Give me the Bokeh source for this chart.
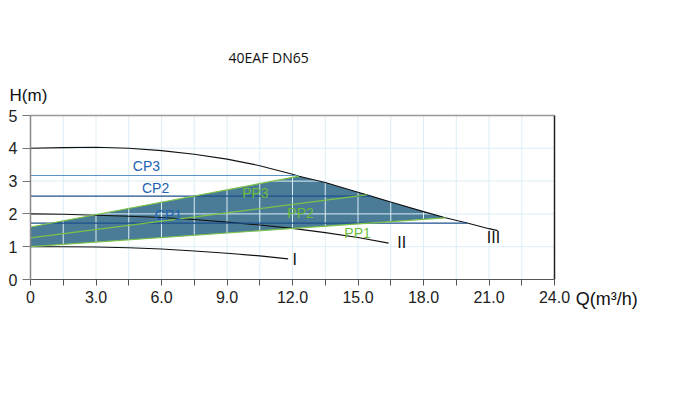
import numpy as np
from bokeh.plotting import figure
from bokeh.models import Label, FixedTicker
from bokeh.core.properties import value
from bokeh.embed import file_html
from bokeh.resources import INLINE

# ---- data ----
title_text = "40EAF DN65"
x_ticks = [0, 1.5, 3, 4.5, 6, 7.5, 9, 10.5, 12, 13.5, 15, 16.5, 18, 19.5, 21, 22.5, 24]
x_tick_labels = ["0", "", "3.0", "", "6.0", "", "9.0", "", "12.0", "", "15.0", "", "18.0", "", "21.0", "", "24.0"]
y_ticks = [0, 1, 2, 3, 4, 5]
x_max = 24
y_max = 5

# max curve III
q3 = [0, 1.5, 3, 4.5, 6, 7.5, 9, 10.5, 12, 12.3, 13.5, 15, 15.4, 16.5, 18, 19, 20, 21, 21.4]
h3 = [4.0, 4.02, 4.03, 4.0, 3.93, 3.82, 3.67, 3.47, 3.21, 3.15, 2.96, 2.66, 2.58, 2.36, 2.07, 1.88, 1.72, 1.55, 1.49]
# curve II
q2 = [0, 1.5, 3, 4.5, 6, 7.5, 9, 10.5, 12, 13.5, 15, 16.4]
h2 = [2.0, 1.99, 1.96, 1.93, 1.89, 1.83, 1.75, 1.66, 1.56, 1.43, 1.28, 1.11]
# curve I
q1 = [0, 1.5, 3, 4.5, 6, 7.5, 9, 10.5, 11.8]
h1 = [1.0, 1.0, 0.99, 0.97, 0.93, 0.87, 0.8, 0.72, 0.63]

# constant pressure lines (height, end flow)
cp_names = ["CP3", "CP2", "CP1"]
cp_h = [3.17, 2.54, 1.72]
cp_qend = [12.2, 15.6, 20.0]
# proportional pressure lines (start head, end flow, end head)
pp_names = ["PP3", "PP2", "PP1"]
pp_h0 = [1.6, 1.27, 1.0]
pp_qend = [12.3, 15.4, 19.0]
pp_hend = [3.15, 2.58, 1.88]

# label positions
cp_lab_q = [5.31, 5.73, 6.32]
cp_lab_h = [3.45, 2.80, 1.98]
pp_lab_q = [10.3, 12.37, 14.98]
pp_lab_h = [2.64, 2.03, 1.42]
curve_names = ["I", "II", "III"]
curve_lab_q = [12.0, 16.8, 20.9]
curve_lab_h = [0.6, 1.13, 1.27]

FONT = "Liberation Sans"

W, H = 669, 389
# pixel placement of the chart box inside the canvas
LEFT, RIGHT, TOP, BOTTOM = 30, 554, 115, 279
sx = (RIGHT - LEFT) / x_max
sy = (BOTTOM - TOP) / y_max
xr = (-LEFT / sx, (W - LEFT) / sx)
yr = (-(H - BOTTOM) / sy, y_max + TOP / sy)

p = figure(width=W, height=H, x_range=xr, y_range=yr,
           output_backend="svg", toolbar_location=None,
           min_border=0, min_border_left=0, min_border_right=0,
           min_border_top=0, min_border_bottom=0)
p.outline_line_color = None
p.background_fill_color = "white"
p.border_fill_color = "white"
p.xgrid.visible = False
p.ygrid.visible = False

# axes fixed at origin
p.xaxis.fixed_location = 0
p.yaxis.fixed_location = 0
p.xaxis.bounds = (0, x_max)
p.yaxis.bounds = (0, y_max)
p.xaxis.ticker = FixedTicker(ticks=x_ticks)
p.yaxis.ticker = FixedTicker(ticks=y_ticks)
p.xaxis.major_label_overrides = {t: l for t, l in zip(x_ticks, x_tick_labels)}
for ax in (p.xaxis[0], p.yaxis[0]):
    ax.major_label_text_font = FONT
    ax.major_label_text_font_size = "16px"
    ax.major_label_text_color = "#222222"
    ax.minor_tick_line_color = None
    ax.major_tick_in = 0
p.xaxis.major_tick_out = 6
p.yaxis.major_tick_out = 8
p.xaxis.axis_line_color = "#555555"
p.xaxis.major_tick_line_color = "#555555"
p.yaxis.axis_line_color = "#888888"
p.yaxis.axis_line_width = 1.5
p.yaxis.major_tick_line_color = "#777777"
p.xaxis.major_label_standoff = 5
p.yaxis.major_label_standoff = 5

# shaded operating region
i_start = q3.index(pp_qend[0])
i_end = q3.index(pp_qend[2])
poly_x = [0] + q3[i_start:i_end + 1] + [0]
poly_y = [pp_h0[0]] + h3[i_start:i_end + 1] + [pp_h0[2]]
p.patch(poly_x, poly_y, fill_color="#4a7c97", line_color=None)

# grid lines (over the shaded region, under the curves)
gx = x_ticks[1:-1]
p.segment(x0=gx, y0=[0] * len(gx), x1=gx, y1=[y_max] * len(gx),
          line_color="#dcedf5", line_width=1)
gy = y_ticks[1:-1]
p.segment(x0=[0] * len(gy), y0=gy, x1=[x_max] * len(gy), y1=gy,
          line_color="#dcedf5", line_width=1)

# chart box top / right border
p.segment(x0=[0], y0=[y_max], x1=[x_max], y1=[y_max], line_color="#999999", line_width=1.5)
p.segment(x0=[x_max], y0=[0], x1=[x_max], y1=[y_max], line_color="#222222", line_width=1.5)

# curves
p.line(q3, h3, line_color="#111111", line_width=1.1)
p.line(q2, h2, line_color="#111111", line_width=1.1)
p.line(q1, h1, line_color="#111111", line_width=1.1)

# CP lines
cp_colors = ["#5b93c9", "#1d4f8c", "#1d4f8c"]
for h, qe, c in zip(cp_h, cp_qend, cp_colors):
    p.line([0, qe], [h, h], line_color=c, line_width=1.2)
# PP lines
for h0, qe, he in zip(pp_h0, pp_qend, pp_hend):
    p.line([0, qe], [h0, he], line_color="#7cc24a", line_width=1.2)

# labels
p.text(x=cp_lab_q, y=cp_lab_h, text=cp_names, text_color="#2262b0",
       text_font=value(FONT), text_font_size="14px",
       text_align="center", text_baseline="middle")
p.text(x=pp_lab_q, y=pp_lab_h, text=pp_names, text_color="#6cbd3a",
       text_font=value(FONT), text_font_size="14px",
       text_align="center", text_baseline="middle")
p.text(x=curve_lab_q, y=curve_lab_h, text=curve_names, text_color="#111111",
       text_font=value(FONT), text_font_size="16px",
       text_align="left", text_baseline="middle")

p.add_layout(Label(x=9.07, y=6.76, text=title_text, text_font="Open Sans",
                   text_font_size="14px", text_color="#111111", text_baseline="middle"))
p.add_layout(Label(x=-0.96, y=5.61, text="H(m)", text_font=FONT,
                   text_font_size="17px", text_color="#111111", text_baseline="middle"))
p.add_layout(Label(x=24.97, y=-0.58, text="Q(m³/h)", text_font=FONT,
                   text_font_size="18px", text_color="#111111", text_baseline="middle"))

open("out.html", "w").write(file_html(p, INLINE))
